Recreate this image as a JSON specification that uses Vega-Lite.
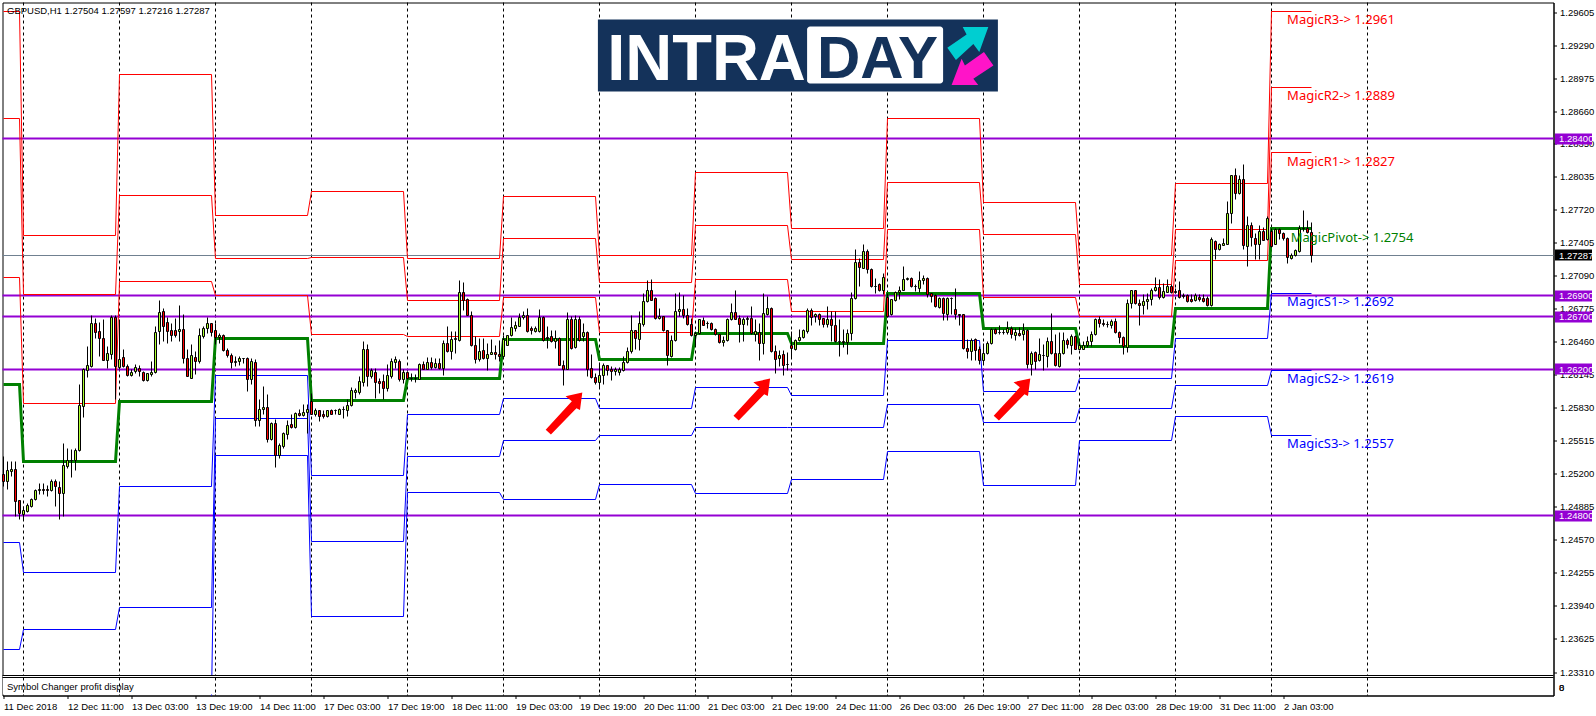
{"$schema":"https://vega.github.io/schema/vega-lite/v6.json","width":1551,"height":693,"autosize":{"type":"none"},"padding":{"left":2.5,"top":2.5,"right":42.5,"bottom":20.5},"background":"white","config":{"view":{"stroke":"black","strokeWidth":1},"text":{"font":"Liberation Sans"},"axis":{"grid":false,"title":null,"labelOverlap":false,"labelBound":false,"labelFlush":false}},
"datasets":{
"candles":[
{"i":0,"o":1.25191,"h":1.25366,"l":1.25079,"c":1.25127},{"i":1,"o":1.25127,"h":1.25318,"l":1.25048,"c":1.25229},{"i":2,"o":1.25219,"h":1.25318,"l":1.25175,"c":1.25245},{"i":3,"o":1.25245,"h":1.25318,"l":1.24793,"c":1.24936},{"i":4,"o":1.24942,"h":1.24945,"l":1.24761,"c":1.24819},{"i":5,"o":1.24809,"h":1.24889,"l":1.24761,"c":1.24847},{"i":6,"o":1.24841,"h":1.24914,"l":1.24835,"c":1.24895},{"i":7,"o":1.24889,"h":1.24968,"l":1.24882,"c":1.24959},{"i":8,"o":1.24959,"h":1.25048,"l":1.24946,"c":1.25038},{"i":9,"o":1.25038,"h":1.25105,"l":1.25000,"c":1.25048},
{"i":10,"o":1.25048,"h":1.25105,"l":1.25000,"c":1.25045},{"i":11,"o":1.25048,"h":1.25086,"l":1.24984,"c":1.25045},{"i":12,"o":1.25041,"h":1.25143,"l":1.25032,"c":1.25127},{"i":13,"o":1.25127,"h":1.25143,"l":1.24889,"c":1.25079},{"i":14,"o":1.25073,"h":1.25127,"l":1.24761,"c":1.25016},{"i":15,"o":1.25016,"h":1.25493,"l":1.24793,"c":1.25277},{"i":16,"o":1.25270,"h":1.25445,"l":1.25254,"c":1.25327},{"i":17,"o":1.25327,"h":1.25436,"l":1.25168,"c":1.25324},{"i":18,"o":1.25327,"h":1.25445,"l":1.25232,"c":1.25426},{"i":19,"o":1.25423,"h":1.26049,"l":1.25413,"c":1.25849},
{"i":20,"o":1.25843,"h":1.26208,"l":1.25738,"c":1.26192},{"i":21,"o":1.26186,"h":1.26415,"l":1.26122,"c":1.26230},{"i":22,"o":1.26224,"h":1.26708,"l":1.26218,"c":1.26631},{"i":23,"o":1.26631,"h":1.26685,"l":1.26495,"c":1.26549},{"i":24,"o":1.26561,"h":1.26644,"l":1.26319,"c":1.26492},{"i":25,"o":1.26495,"h":1.26669,"l":1.26281,"c":1.26281},{"i":26,"o":1.26281,"h":1.26415,"l":1.26208,"c":1.26345},{"i":27,"o":1.26339,"h":1.26708,"l":1.26288,"c":1.26688},{"i":28,"o":1.26688,"h":1.26708,"l":1.25906,"c":1.26224},{"i":29,"o":1.26211,"h":1.26669,"l":1.26192,"c":1.26288},
{"i":30,"o":1.26313,"h":1.26383,"l":1.26218,"c":1.26224},{"i":31,"o":1.26224,"h":1.26240,"l":1.26129,"c":1.26138},{"i":32,"o":1.26138,"h":1.26192,"l":1.26129,"c":1.26170},{"i":33,"o":1.26176,"h":1.26240,"l":1.26161,"c":1.26218},{"i":34,"o":1.26208,"h":1.26230,"l":1.26129,"c":1.26176},{"i":35,"o":1.26167,"h":1.26176,"l":1.26081,"c":1.26091},{"i":36,"o":1.26091,"h":1.26161,"l":1.26081,"c":1.26154},{"i":37,"o":1.26148,"h":1.26272,"l":1.26129,"c":1.26170},{"i":38,"o":1.26170,"h":1.26606,"l":1.26161,"c":1.26552},{"i":39,"o":1.26558,"h":1.26851,"l":1.26431,"c":1.26742},
{"i":40,"o":1.26752,"h":1.26781,"l":1.26463,"c":1.26606},{"i":41,"o":1.26644,"h":1.26695,"l":1.26447,"c":1.26558},{"i":42,"o":1.26564,"h":1.26638,"l":1.26463,"c":1.26517},{"i":43,"o":1.26564,"h":1.26685,"l":1.26504,"c":1.26517},{"i":44,"o":1.26558,"h":1.26812,"l":1.26463,"c":1.26580},{"i":45,"o":1.26580,"h":1.26717,"l":1.26256,"c":1.26304},{"i":46,"o":1.26304,"h":1.26383,"l":1.26129,"c":1.26129},{"i":47,"o":1.26113,"h":1.26431,"l":1.26110,"c":1.26326},{"i":48,"o":1.26313,"h":1.26367,"l":1.26145,"c":1.26272},{"i":49,"o":1.26272,"h":1.26590,"l":1.26256,"c":1.26517},
{"i":50,"o":1.26510,"h":1.26606,"l":1.26495,"c":1.26590},{"i":51,"o":1.26587,"h":1.26695,"l":1.26542,"c":1.26631},{"i":52,"o":1.26631,"h":1.26631,"l":1.26510,"c":1.26549},{"i":53,"o":1.26564,"h":1.26638,"l":1.26431,"c":1.26504},{"i":54,"o":1.26504,"h":1.26542,"l":1.26447,"c":1.26520},{"i":55,"o":1.26520,"h":1.26526,"l":1.26367,"c":1.26374},{"i":56,"o":1.26374,"h":1.26399,"l":1.26313,"c":1.26329},{"i":57,"o":1.26329,"h":1.26345,"l":1.26208,"c":1.26262},{"i":58,"o":1.26265,"h":1.26319,"l":1.26224,"c":1.26275},{"i":59,"o":1.26272,"h":1.26319,"l":1.26230,"c":1.26304},
{"i":60,"o":1.26304,"h":1.26304,"l":1.26256,"c":1.26301},{"i":61,"o":1.26304,"h":1.26313,"l":1.25986,"c":1.26103},{"i":62,"o":1.26103,"h":1.26304,"l":1.26049,"c":1.26272},{"i":63,"o":1.26265,"h":1.26288,"l":1.25652,"c":1.25709},{"i":64,"o":1.25709,"h":1.25906,"l":1.25652,"c":1.25817},{"i":65,"o":1.25817,"h":1.26033,"l":1.25763,"c":1.25836},{"i":66,"o":1.25836,"h":1.25954,"l":1.25499,"c":1.25525},{"i":67,"o":1.25525,"h":1.25690,"l":1.25518,"c":1.25677},{"i":68,"o":1.25677,"h":1.25715,"l":1.25261,"c":1.25375},{"i":69,"o":1.25375,"h":1.25493,"l":1.25350,"c":1.25467},
{"i":70,"o":1.25461,"h":1.25595,"l":1.25445,"c":1.25582},{"i":71,"o":1.25575,"h":1.25709,"l":1.25531,"c":1.25664},{"i":72,"o":1.25668,"h":1.25763,"l":1.25636,"c":1.25642},{"i":73,"o":1.25642,"h":1.25785,"l":1.25636,"c":1.25779},{"i":74,"o":1.25779,"h":1.25811,"l":1.25747,"c":1.25754},{"i":75,"o":1.25760,"h":1.25859,"l":1.25747,"c":1.25789},{"i":76,"o":1.25785,"h":1.25859,"l":1.25588,"c":1.25817},{"i":77,"o":1.25890,"h":1.25970,"l":1.25763,"c":1.25769},{"i":78,"o":1.25766,"h":1.25827,"l":1.25747,"c":1.25808},{"i":79,"o":1.25808,"h":1.25808,"l":1.25700,"c":1.25747},
{"i":80,"o":1.25763,"h":1.25804,"l":1.25731,"c":1.25750},{"i":81,"o":1.25747,"h":1.25804,"l":1.25741,"c":1.25801},{"i":82,"o":1.25801,"h":1.25817,"l":1.25763,"c":1.25766},{"i":83,"o":1.25808,"h":1.25817,"l":1.25763,"c":1.25805},{"i":84,"o":1.25766,"h":1.25827,"l":1.25763,"c":1.25817},{"i":85,"o":1.25811,"h":1.25843,"l":1.25731,"c":1.25817},{"i":86,"o":1.25804,"h":1.25906,"l":1.25747,"c":1.25855},{"i":87,"o":1.25849,"h":1.26027,"l":1.25843,"c":1.25998},{"i":88,"o":1.25976,"h":1.26017,"l":1.25922,"c":1.25998},{"i":89,"o":1.25976,"h":1.26129,"l":1.25954,"c":1.26078},
{"i":90,"o":1.26072,"h":1.26463,"l":1.26033,"c":1.26383},{"i":91,"o":1.26383,"h":1.26431,"l":1.26033,"c":1.26129},{"i":92,"o":1.26129,"h":1.26208,"l":1.26113,"c":1.26186},{"i":93,"o":1.26170,"h":1.26208,"l":1.25916,"c":1.26072},{"i":94,"o":1.26078,"h":1.26113,"l":1.25970,"c":1.26065},{"i":95,"o":1.26078,"h":1.26145,"l":1.25906,"c":1.26011},{"i":96,"o":1.26011,"h":1.26240,"l":1.25986,"c":1.26135},{"i":97,"o":1.26129,"h":1.26304,"l":1.26113,"c":1.26269},{"i":98,"o":1.26262,"h":1.26319,"l":1.26208,"c":1.26288},{"i":99,"o":1.26275,"h":1.26288,"l":1.26081,"c":1.26103},
{"i":100,"o":1.26103,"h":1.26192,"l":1.26065,"c":1.26170},{"i":101,"o":1.26170,"h":1.26176,"l":1.26097,"c":1.26106},{"i":102,"o":1.26110,"h":1.26161,"l":1.26081,"c":1.26113},{"i":103,"o":1.26113,"h":1.26145,"l":1.26075,"c":1.26110},{"i":104,"o":1.26103,"h":1.26256,"l":1.26097,"c":1.26246},{"i":105,"o":1.26246,"h":1.26271,"l":1.26192,"c":1.26201},{"i":106,"o":1.26201,"h":1.26312,"l":1.26192,"c":1.26265},{"i":107,"o":1.26265,"h":1.26312,"l":1.26201,"c":1.26214},{"i":108,"o":1.26214,"h":1.26303,"l":1.26208,"c":1.26255},{"i":109,"o":1.26255,"h":1.26297,"l":1.26198,"c":1.26208},
{"i":110,"o":1.26208,"h":1.26478,"l":1.26144,"c":1.26446},{"i":111,"o":1.26446,"h":1.26611,"l":1.26357,"c":1.26366},{"i":112,"o":1.26366,"h":1.26557,"l":1.26293,"c":1.26487},{"i":113,"o":1.26484,"h":1.26557,"l":1.26351,"c":1.26494},{"i":114,"o":1.26478,"h":1.27050,"l":1.26468,"c":1.26932},{"i":115,"o":1.26932,"h":1.27025,"l":1.26764,"c":1.26859},{"i":116,"o":1.26866,"h":1.26875,"l":1.26716,"c":1.26716},{"i":117,"o":1.26710,"h":1.26748,"l":1.26414,"c":1.26424},{"i":118,"o":1.26424,"h":1.26516,"l":1.26255,"c":1.26293},{"i":119,"o":1.26293,"h":1.26494,"l":1.26271,"c":1.26373},
{"i":120,"o":1.26376,"h":1.26494,"l":1.26293,"c":1.26297},{"i":121,"o":1.26297,"h":1.26446,"l":1.26185,"c":1.26341},{"i":122,"o":1.26341,"h":1.26484,"l":1.26335,"c":1.26357},{"i":123,"o":1.26360,"h":1.26430,"l":1.26293,"c":1.26335},{"i":124,"o":1.26341,"h":1.26478,"l":1.26271,"c":1.26319},{"i":125,"o":1.26319,"h":1.26525,"l":1.26312,"c":1.26484},{"i":126,"o":1.26424,"h":1.26525,"l":1.26421,"c":1.26519},{"i":127,"o":1.26519,"h":1.26694,"l":1.26510,"c":1.26595},{"i":128,"o":1.26592,"h":1.26653,"l":1.26557,"c":1.26621},{"i":129,"o":1.26611,"h":1.26732,"l":1.26605,"c":1.26694},
{"i":130,"o":1.26688,"h":1.26748,"l":1.26675,"c":1.26710},{"i":131,"o":1.26716,"h":1.26780,"l":1.26548,"c":1.26557},{"i":132,"o":1.26589,"h":1.26611,"l":1.26535,"c":1.26564},{"i":133,"o":1.26557,"h":1.26611,"l":1.26548,"c":1.26592},{"i":134,"o":1.26557,"h":1.26770,"l":1.26548,"c":1.26694},{"i":135,"o":1.26694,"h":1.26700,"l":1.26462,"c":1.26478},{"i":136,"o":1.26503,"h":1.26605,"l":1.26398,"c":1.26494},{"i":137,"o":1.26510,"h":1.26567,"l":1.26452,"c":1.26462},{"i":138,"o":1.26462,"h":1.26567,"l":1.26398,"c":1.26491},{"i":139,"o":1.26497,"h":1.26503,"l":1.26230,"c":1.26233},
{"i":140,"o":1.26233,"h":1.26287,"l":1.26042,"c":1.26198},{"i":141,"o":1.26198,"h":1.26738,"l":1.26192,"c":1.26675},{"i":142,"o":1.26669,"h":1.26707,"l":1.26389,"c":1.26398},{"i":143,"o":1.26405,"h":1.26716,"l":1.26398,"c":1.26669},{"i":144,"o":1.26669,"h":1.26700,"l":1.26462,"c":1.26471},{"i":145,"o":1.26516,"h":1.26637,"l":1.26468,"c":1.26551},{"i":146,"o":1.26551,"h":1.26557,"l":1.26128,"c":1.26201},{"i":147,"o":1.26208,"h":1.26344,"l":1.26112,"c":1.26118},{"i":148,"o":1.26121,"h":1.26160,"l":1.26058,"c":1.26071},{"i":149,"o":1.26071,"h":1.26249,"l":1.26017,"c":1.26144},
{"i":150,"o":1.26137,"h":1.26255,"l":1.26049,"c":1.26230},{"i":151,"o":1.26233,"h":1.26239,"l":1.26144,"c":1.26185},{"i":152,"o":1.26201,"h":1.26223,"l":1.26096,"c":1.26176},{"i":153,"o":1.26176,"h":1.26217,"l":1.26144,"c":1.26192},{"i":154,"o":1.26166,"h":1.26214,"l":1.26137,"c":1.26192},{"i":155,"o":1.26185,"h":1.26319,"l":1.26176,"c":1.26268},{"i":156,"o":1.26265,"h":1.26408,"l":1.26255,"c":1.26373},{"i":157,"o":1.26366,"h":1.26716,"l":1.26351,"c":1.26564},{"i":158,"o":1.26564,"h":1.26567,"l":1.26389,"c":1.26494},{"i":159,"o":1.26487,"h":1.26748,"l":1.26382,"c":1.26637},
{"i":160,"o":1.26630,"h":1.26923,"l":1.26605,"c":1.26850},{"i":161,"o":1.26843,"h":1.27044,"l":1.26834,"c":1.26952},{"i":162,"o":1.26955,"h":1.27057,"l":1.26853,"c":1.26859},{"i":163,"o":1.26875,"h":1.26882,"l":1.26675,"c":1.26681},{"i":164,"o":1.26681,"h":1.26780,"l":1.26675,"c":1.26700},{"i":165,"o":1.26700,"h":1.26707,"l":1.26561,"c":1.26567},{"i":166,"o":1.26564,"h":1.26573,"l":1.26230,"c":1.26328},{"i":167,"o":1.26325,"h":1.26525,"l":1.26312,"c":1.26478},{"i":168,"o":1.26471,"h":1.26923,"l":1.26462,"c":1.26748},{"i":169,"o":1.26748,"h":1.26929,"l":1.26700,"c":1.26770},
{"i":170,"o":1.26773,"h":1.26898,"l":1.26684,"c":1.26710},{"i":171,"o":1.26716,"h":1.26780,"l":1.26621,"c":1.26627},{"i":172,"o":1.26627,"h":1.26684,"l":1.26516,"c":1.26519},{"i":173,"o":1.26519,"h":1.26557,"l":1.26421,"c":1.26541},{"i":174,"o":1.26538,"h":1.26675,"l":1.26535,"c":1.26669},{"i":175,"o":1.26665,"h":1.26694,"l":1.26614,"c":1.26621},{"i":176,"o":1.26637,"h":1.26659,"l":1.26583,"c":1.26634},{"i":177,"o":1.26637,"h":1.26646,"l":1.26573,"c":1.26580},{"i":178,"o":1.26580,"h":1.26589,"l":1.26525,"c":1.26535},{"i":179,"o":1.26529,"h":1.26535,"l":1.26440,"c":1.26452},
{"i":180,"o":1.26452,"h":1.26510,"l":1.26414,"c":1.26478},{"i":181,"o":1.26471,"h":1.26684,"l":1.26468,"c":1.26675},{"i":182,"o":1.26669,"h":1.26827,"l":1.26662,"c":1.26741},{"i":183,"o":1.26741,"h":1.26955,"l":1.26669,"c":1.26678},{"i":184,"o":1.26684,"h":1.26716,"l":1.26452,"c":1.26630},{"i":185,"o":1.26630,"h":1.26694,"l":1.26462,"c":1.26675},{"i":186,"o":1.26675,"h":1.26700,"l":1.26621,"c":1.26684},{"i":187,"o":1.26684,"h":1.26796,"l":1.26535,"c":1.26541},{"i":188,"o":1.26535,"h":1.26669,"l":1.26462,"c":1.26557},{"i":189,"o":1.26548,"h":1.26637,"l":1.26281,"c":1.26446},
{"i":190,"o":1.26446,"h":1.26923,"l":1.26335,"c":1.26732},{"i":191,"o":1.26726,"h":1.26891,"l":1.26716,"c":1.26780},{"i":192,"o":1.26780,"h":1.26786,"l":1.26360,"c":1.26366},{"i":193,"o":1.26373,"h":1.26421,"l":1.26160,"c":1.26293},{"i":194,"o":1.26297,"h":1.26376,"l":1.26223,"c":1.26328},{"i":195,"o":1.26335,"h":1.26382,"l":1.26144,"c":1.26230},{"i":196,"o":1.26246,"h":1.26354,"l":1.26185,"c":1.26243},{"i":197,"o":1.26421,"h":1.26558,"l":1.26303,"c":1.26396},{"i":198,"o":1.26383,"h":1.26485,"l":1.26376,"c":1.26478},{"i":199,"o":1.26469,"h":1.26574,"l":1.26462,"c":1.26500},
{"i":200,"o":1.26500,"h":1.26574,"l":1.26494,"c":1.26564},{"i":201,"o":1.26558,"h":1.26780,"l":1.26542,"c":1.26755},{"i":202,"o":1.26755,"h":1.26780,"l":1.26621,"c":1.26694},{"i":203,"o":1.26701,"h":1.26733,"l":1.26644,"c":1.26723},{"i":204,"o":1.26723,"h":1.26733,"l":1.26612,"c":1.26669},{"i":205,"o":1.26679,"h":1.26685,"l":1.26599,"c":1.26628},{"i":206,"o":1.26628,"h":1.26802,"l":1.26599,"c":1.26669},{"i":207,"o":1.26669,"h":1.26749,"l":1.26462,"c":1.26615},{"i":208,"o":1.26621,"h":1.26749,"l":1.26456,"c":1.26462},{"i":209,"o":1.26462,"h":1.26669,"l":1.26319,"c":1.26459},
{"i":210,"o":1.26459,"h":1.26580,"l":1.26408,"c":1.26456},{"i":211,"o":1.26453,"h":1.26580,"l":1.26335,"c":1.26542},{"i":212,"o":1.26542,"h":1.26930,"l":1.26469,"c":1.26876},{"i":213,"o":1.26873,"h":1.27343,"l":1.26866,"c":1.27222},{"i":214,"o":1.27222,"h":1.27257,"l":1.26987,"c":1.27168},{"i":215,"o":1.27162,"h":1.27385,"l":1.27156,"c":1.27327},{"i":216,"o":1.27327,"h":1.27337,"l":1.27114,"c":1.27146},{"i":217,"o":1.27152,"h":1.27159,"l":1.26978,"c":1.26987},{"i":218,"o":1.26987,"h":1.27066,"l":1.26917,"c":1.26984},{"i":219,"o":1.27009,"h":1.27019,"l":1.26939,"c":1.26946},
{"i":220,"o":1.26955,"h":1.27114,"l":1.26908,"c":1.27076},{"i":221,"o":1.26885,"h":1.26923,"l":1.26694,"c":1.26707},{"i":222,"o":1.26717,"h":1.26866,"l":1.26710,"c":1.26860},{"i":223,"o":1.26853,"h":1.26939,"l":1.26850,"c":1.26933},{"i":224,"o":1.26930,"h":1.26987,"l":1.26860,"c":1.26955},{"i":225,"o":1.26949,"h":1.27178,"l":1.26946,"c":1.27057},{"i":226,"o":1.27057,"h":1.27076,"l":1.27044,"c":1.27066},{"i":227,"o":1.27066,"h":1.27076,"l":1.26977,"c":1.26987},{"i":228,"o":1.26987,"h":1.27012,"l":1.26939,"c":1.26984},{"i":229,"o":1.26974,"h":1.27130,"l":1.26930,"c":1.27047},
{"i":230,"o":1.27044,"h":1.27089,"l":1.27012,"c":1.27066},{"i":231,"o":1.27066,"h":1.27073,"l":1.26885,"c":1.26908},{"i":232,"o":1.26917,"h":1.26923,"l":1.26834,"c":1.26892},{"i":233,"o":1.26898,"h":1.26908,"l":1.26790,"c":1.26796},{"i":234,"o":1.26790,"h":1.26885,"l":1.26780,"c":1.26876},{"i":235,"o":1.26876,"h":1.26885,"l":1.26663,"c":1.26733},{"i":236,"o":1.26726,"h":1.26882,"l":1.26663,"c":1.26876},{"i":237,"o":1.26876,"h":1.26882,"l":1.26726,"c":1.26873},{"i":238,"o":1.26765,"h":1.26971,"l":1.26669,"c":1.26717},{"i":239,"o":1.26717,"h":1.26726,"l":1.26612,"c":1.26714},
{"i":240,"o":1.26717,"h":1.26726,"l":1.26392,"c":1.26399},{"i":241,"o":1.26399,"h":1.26484,"l":1.26303,"c":1.26367},{"i":242,"o":1.26367,"h":1.26494,"l":1.26287,"c":1.26478},{"i":243,"o":1.26484,"h":1.26494,"l":1.26287,"c":1.26376},{"i":244,"o":1.26383,"h":1.26415,"l":1.26249,"c":1.26287},{"i":245,"o":1.26287,"h":1.26446,"l":1.26240,"c":1.26345},{"i":246,"o":1.26345,"h":1.26459,"l":1.26342,"c":1.26446},{"i":247,"o":1.26440,"h":1.26590,"l":1.26431,"c":1.26574},{"i":248,"o":1.26574,"h":1.26590,"l":1.26526,"c":1.26542},{"i":249,"o":1.26548,"h":1.26612,"l":1.26526,"c":1.26545},
{"i":250,"o":1.26548,"h":1.26580,"l":1.26526,"c":1.26545},{"i":251,"o":1.26548,"h":1.26653,"l":1.26526,"c":1.26590},{"i":252,"o":1.26590,"h":1.26606,"l":1.26494,"c":1.26526},{"i":253,"o":1.26520,"h":1.26590,"l":1.26472,"c":1.26545},{"i":254,"o":1.26542,"h":1.26599,"l":1.26510,"c":1.26520},{"i":255,"o":1.26526,"h":1.26631,"l":1.26472,"c":1.26564},{"i":256,"o":1.26564,"h":1.26574,"l":1.26208,"c":1.26249},{"i":257,"o":1.26249,"h":1.26367,"l":1.26135,"c":1.26351},{"i":258,"o":1.26357,"h":1.26367,"l":1.26192,"c":1.26271},{"i":259,"o":1.26278,"h":1.26494,"l":1.26271,"c":1.26335},
{"i":260,"o":1.26332,"h":1.26431,"l":1.26186,"c":1.26329},{"i":261,"o":1.26319,"h":1.26503,"l":1.26217,"c":1.26465},{"i":262,"o":1.26465,"h":1.26733,"l":1.26335,"c":1.26345},{"i":263,"o":1.26351,"h":1.26526,"l":1.26224,"c":1.26230},{"i":264,"o":1.26224,"h":1.26548,"l":1.26217,"c":1.26351},{"i":265,"o":1.26345,"h":1.26548,"l":1.26342,"c":1.26478},{"i":266,"o":1.26478,"h":1.26494,"l":1.26399,"c":1.26431},{"i":267,"o":1.26427,"h":1.26526,"l":1.26342,"c":1.26516},{"i":268,"o":1.26516,"h":1.26523,"l":1.26383,"c":1.26389},{"i":269,"o":1.26389,"h":1.26462,"l":1.26383,"c":1.26421},
{"i":270,"o":1.26392,"h":1.26462,"l":1.26383,"c":1.26427},{"i":271,"o":1.26421,"h":1.26516,"l":1.26408,"c":1.26462},{"i":272,"o":1.26459,"h":1.26558,"l":1.26415,"c":1.26532},{"i":273,"o":1.26526,"h":1.26685,"l":1.26520,"c":1.26675},{"i":274,"o":1.26675,"h":1.26701,"l":1.26599,"c":1.26631},{"i":275,"o":1.26631,"h":1.26669,"l":1.26606,"c":1.26628},{"i":276,"o":1.26628,"h":1.26653,"l":1.26599,"c":1.26625},{"i":277,"o":1.26612,"h":1.26675,"l":1.26590,"c":1.26650},{"i":278,"o":1.26650,"h":1.26682,"l":1.26542,"c":1.26551},{"i":279,"o":1.26551,"h":1.26558,"l":1.26446,"c":1.26503},
{"i":280,"o":1.26503,"h":1.26510,"l":1.26335,"c":1.26415},{"i":281,"o":1.26408,"h":1.26866,"l":1.26357,"c":1.26828},{"i":282,"o":1.26828,"h":1.26955,"l":1.26780,"c":1.26946},{"i":283,"o":1.26946,"h":1.26955,"l":1.26815,"c":1.26822},{"i":284,"o":1.26828,"h":1.26866,"l":1.26621,"c":1.26803},{"i":285,"o":1.26803,"h":1.26908,"l":1.26726,"c":1.26850},{"i":286,"o":1.26844,"h":1.26917,"l":1.26765,"c":1.26866},{"i":287,"o":1.26860,"h":1.26971,"l":1.26812,"c":1.26955},{"i":288,"o":1.26949,"h":1.27076,"l":1.26939,"c":1.26981},{"i":289,"o":1.26981,"h":1.27051,"l":1.26866,"c":1.26882},
{"i":290,"o":1.26882,"h":1.27019,"l":1.26876,"c":1.26942},{"i":291,"o":1.26936,"h":1.27051,"l":1.26930,"c":1.26993},{"i":292,"o":1.26993,"h":1.27003,"l":1.26917,"c":1.26930},{"i":293,"o":1.26939,"h":1.26971,"l":1.26917,"c":1.26936},{"i":294,"o":1.26946,"h":1.27035,"l":1.26876,"c":1.26888},{"i":295,"o":1.26898,"h":1.26917,"l":1.26876,"c":1.26895},{"i":296,"o":1.26898,"h":1.26908,"l":1.26834,"c":1.26841},{"i":297,"o":1.26860,"h":1.26908,"l":1.26838,"c":1.26844},{"i":298,"o":1.26853,"h":1.26917,"l":1.26844,"c":1.26898},{"i":299,"o":1.26885,"h":1.26908,"l":1.26847,"c":1.26860},
{"i":300,"o":1.26876,"h":1.26908,"l":1.26838,"c":1.26850},{"i":301,"o":1.26876,"h":1.26892,"l":1.26796,"c":1.26803},{"i":302,"o":1.26803,"h":1.27458,"l":1.26796,"c":1.27439},{"i":303,"o":1.27419,"h":1.27426,"l":1.27248,"c":1.27337},{"i":304,"o":1.27343,"h":1.27400,"l":1.27330,"c":1.27385},{"i":305,"o":1.27381,"h":1.27448,"l":1.27375,"c":1.27400},{"i":306,"o":1.27394,"h":1.27798,"l":1.27385,"c":1.27687},{"i":307,"o":1.27687,"h":1.28043,"l":1.27591,"c":1.28043},{"i":308,"o":1.28043,"h":1.28116,"l":1.27820,"c":1.27878},{"i":309,"o":1.27878,"h":1.28052,"l":1.27871,"c":1.28011},
{"i":310,"o":1.28011,"h":1.28157,"l":1.27337,"c":1.27375},{"i":311,"o":1.27369,"h":1.27655,"l":1.27184,"c":1.27575},{"i":312,"o":1.27575,"h":1.27598,"l":1.27369,"c":1.27458},{"i":313,"o":1.27448,"h":1.27496,"l":1.27242,"c":1.27385},{"i":314,"o":1.27385,"h":1.27575,"l":1.27242,"c":1.27512},{"i":315,"o":1.27512,"h":1.27553,"l":1.27432,"c":1.27432},{"i":316,"o":1.27439,"h":1.27655,"l":1.27432,"c":1.27639},{"i":317,"o":1.27512,"h":1.27544,"l":1.27362,"c":1.27369},{"i":318,"o":1.27394,"h":1.27544,"l":1.27385,"c":1.27528},{"i":319,"o":1.27528,"h":1.27544,"l":1.27439,"c":1.27490},
{"i":320,"o":1.27490,"h":1.27502,"l":1.27432,"c":1.27448},{"i":321,"o":1.27448,"h":1.27458,"l":1.27210,"c":1.27264},{"i":322,"o":1.27258,"h":1.27299,"l":1.27242,"c":1.27289},{"i":323,"o":1.27280,"h":1.27343,"l":1.27274,"c":1.27331},{"i":324,"o":1.27321,"h":1.27566,"l":1.27312,"c":1.27544},{"i":325,"o":1.27544,"h":1.27718,"l":1.27512,"c":1.27541},{"i":326,"o":1.27544,"h":1.27617,"l":1.27496,"c":1.27502},{"i":327,"o":1.27504,"h":1.27597,"l":1.27216,"c":1.27287}],
"levels":[
{"i":0,"R3":1.29617,"R2":1.28596,"R1":1.27076,"P":1.26055,"S1":1.24546,"S2":1.23520,"S3":1.22012},{"i":4,"R3":1.29617,"R2":1.28596,"R1":1.27076,"P":1.26055,"S1":1.24546,"S2":1.23520,"S3":1.22012},
{"i":5,"R3":1.27477,"R2":1.26914,"R1":1.25874,"P":1.25321,"S1":1.24264,"S2":1.23720,"S3":1.22690},{"i":28,"R3":1.27477,"R2":1.26914,"R1":1.25874,"P":1.25321,"S1":1.24264,"S2":1.23720,"S3":1.22690},
{"i":29,"R3":1.29007,"R2":1.27859,"R1":1.27038,"P":1.25893,"S1":1.25078,"S2":1.23921,"S3":1.23072},{"i":52,"R3":1.29007,"R2":1.27859,"R1":1.27038,"P":1.25893,"S1":1.25078,"S2":1.23921,"S3":1.23072},
{"i":53,"R3":1.27668,"R2":1.27258,"R1":1.26905,"P":1.26494,"S1":1.26141,"S2":1.25731,"S3":1.25378},{"i":76,"R3":1.27668,"R2":1.27258,"R1":1.26905,"P":1.26494,"S1":1.26141,"S2":1.25731,"S3":1.25378},
{"i":77,"R3":1.27897,"R2":1.27261,"R1":1.26533,"P":1.25903,"S1":1.25187,"S2":1.24551,"S3":1.23840},{"i":100,"R3":1.27897,"R2":1.27261,"R1":1.26533,"P":1.25903,"S1":1.25187,"S2":1.24551,"S3":1.23840},
{"i":101,"R3":1.27258,"R2":1.26857,"R1":1.26513,"P":1.26113,"S1":1.25769,"S2":1.25368,"S3":1.25025},{"i":124,"R3":1.27258,"R2":1.26857,"R1":1.26513,"P":1.26113,"S1":1.25769,"S2":1.25368,"S3":1.25025},
{"i":125,"R3":1.27852,"R2":1.27449,"R1":1.26886,"P":1.26485,"S1":1.25922,"S2":1.25521,"S3":1.24958},{"i":148,"R3":1.27852,"R2":1.27449,"R1":1.26886,"P":1.26485,"S1":1.25922,"S2":1.25521,"S3":1.24958},
{"i":149,"R3":1.27283,"R2":1.27029,"R1":1.26552,"P":1.26294,"S1":1.25826,"S2":1.25569,"S3":1.25101},{"i":172,"R3":1.27283,"R2":1.27029,"R1":1.26552,"P":1.26294,"S1":1.25826,"S2":1.25569,"S3":1.25101},
{"i":173,"R3":1.28072,"R2":1.27566,"R1":1.27051,"P":1.26542,"S1":1.26027,"S2":1.25645,"S3":1.25009},{"i":196,"R3":1.28072,"R2":1.27566,"R1":1.27051,"P":1.26542,"S1":1.26027,"S2":1.25645,"S3":1.25009},
{"i":197,"R3":1.27544,"R2":1.27248,"R1":1.26752,"P":1.26447,"S1":1.25950,"S2":1.25645,"S3":1.25149},{"i":220,"R3":1.27544,"R2":1.27248,"R1":1.26752,"P":1.26447,"S1":1.25950,"S2":1.25645,"S3":1.25149},
{"i":221,"R3":1.28594,"R2":1.27983,"R1":1.27534,"P":1.26924,"S1":1.26475,"S2":1.25865,"S3":1.25416},{"i":244,"R3":1.28594,"R2":1.27983,"R1":1.27534,"P":1.26924,"S1":1.26475,"S2":1.25865,"S3":1.25416},
{"i":245,"R3":1.27792,"R2":1.27487,"R1":1.26886,"P":1.26590,"S1":1.25989,"S2":1.25693,"S3":1.25092},{"i":268,"R3":1.27792,"R2":1.27487,"R1":1.26886,"P":1.26590,"S1":1.25989,"S2":1.25693,"S3":1.25092},
{"i":269,"R3":1.27286,"R2":1.27010,"R1":1.26700,"P":1.26416,"S1":1.26113,"S2":1.25826,"S3":1.25521},{"i":292,"R3":1.27286,"R2":1.27010,"R1":1.26700,"P":1.26416,"S1":1.26113,"S2":1.25826,"S3":1.25521},
{"i":293,"R3":1.27973,"R2":1.27528,"R1":1.27241,"P":1.26781,"S1":1.26494,"S2":1.26046,"S3":1.25750},{"i":316,"R3":1.27973,"R2":1.27528,"R1":1.27241,"P":1.26781,"S1":1.26494,"S2":1.26046,"S3":1.25750},
{"i":317,"R3":1.2961,"R2":1.2889,"R1":1.2827,"P":1.2754,"S1":1.2692,"S2":1.2619,"S3":1.2557},{"i":327,"R3":1.2961,"R2":1.2889,"R1":1.2827,"P":1.2754,"S1":1.2692,"S2":1.2619,"S3":1.2557}],
"seps":[{"i":5},{"i":29},{"i":53},{"i":77},{"i":101},{"i":125},{"i":149},{"i":173},{"i":197},{"i":221},{"i":245},{"i":269},{"i":293},{"i":317},{"i":341}],
"magic":[{"i":320.9,"p":1.29538,"k":"R3","t":"MagicR3-> 1.2961"},{"i":320.9,"p":1.28809,"k":"R2","t":"MagicR2-> 1.2889"},{"i":320.9,"p":1.28179,"k":"R1","t":"MagicR1-> 1.2827"},{"i":321.8,"p":1.27458,"k":"P","t":"MagicPivot-> 1.2754"},{"i":320.9,"p":1.26841,"k":"S1","t":"MagicS1-> 1.2692"},{"i":320.9,"p":1.2611,"k":"S2","t":"MagicS2-> 1.2619"},{"i":320.9,"p":1.25488,"k":"S3","t":"MagicS3-> 1.2557"}],
"boxes":[{"x1":387.875,"x2":397.125,"t":"1.28400","p":1.284,"a":1.28453,"b":1.28347},{"x1":387.875,"x2":397.125,"t":"1.26900","p":1.269,"a":1.26953,"b":1.26847},{"x1":387.875,"x2":397.125,"t":"1.26700","p":1.267,"a":1.26753,"b":1.26647},{"x1":387.875,"x2":397.125,"t":"1.26200","p":1.262,"a":1.26253,"b":1.26147},{"x1":387.875,"x2":397.125,"t":"1.24800","p":1.248,"a":1.24853,"b":1.24747}]
},
"layer":[
{"data":{"name":"seps"},"mark":{"type":"rule","color":"black","strokeWidth":1,"strokeDash":[3,3]},"encoding":{"x":{"field":"i","type":"quantitative","scale":{"domain":[-0.25,387.5],"nice":false,"zero":false,"padding":0},"axis":{"orient":"bottom","values":[0,16,32,48,64,80,96,112,128,144,160,176,192,208,224,240,256,272,288,304,320],"labelExpr":"['11 Dec 2018','12 Dec 11:00','13 Dec 03:00','13 Dec 19:00','14 Dec 11:00','17 Dec 03:00','17 Dec 19:00','18 Dec 11:00','19 Dec 03:00','19 Dec 19:00','20 Dec 11:00','21 Dec 03:00','21 Dec 19:00','24 Dec 11:00','26 Dec 03:00','26 Dec 19:00','27 Dec 11:00','28 Dec 03:00','28 Dec 19:00','31 Dec 11:00','2 Jan 03:00'][datum.value/16]","labelAlign":"left","labelBaseline":"top","labelFlush":false,"labelOverlap":false,"labelBound":false,"tickCount":60,"tickSize":3,"labelPadding":3,"grid":false,"title":null,"domainColor":"black","tickColor":"black","labelColor":"black","labelFont":"Liberation Sans","labelFontSize":9.5}}}},
{"data":{"values":[{"p":1.284},{"p":1.269},{"p":1.267},{"p":1.262},{"p":1.248}]},"mark":{"type":"rule","color":"#9400D3","strokeWidth":2},"encoding":{"y":{"field":"p","type":"quantitative","scale":{"domain":[1.230858,1.296985],"nice":false,"zero":false,"round":true,"padding":0},"axis":{"orient":"right","values":[1.29605,1.2929,1.28975,1.2866,1.2835,1.28035,1.2772,1.27405,1.2709,1.26775,1.2646,1.26145,1.2583,1.25515,1.252,1.24885,1.2457,1.24255,1.2394,1.23625,1.2331],"format":".5f","labelAlign":"left","labelBaseline":"middle","labelOverlap":false,"labelBound":false,"labelFlush":false,"tickCount":60,"tickSize":3,"labelPadding":3,"grid":false,"title":null,"domainColor":"black","tickColor":"black","labelColor":"black","labelFont":"Liberation Sans","labelFontSize":9.5}}}},
{"data":{"values":[{"p":1.27287}]},"mark":{"type":"rule","color":"#708090","strokeWidth":1},"encoding":{"y":{"field":"p","type":"quantitative"}}},
{"data":{"name":"levels"},"transform":[{"fold":["R3","R2","R1","S1","S2","S3"],"as":["k","v"]}],"mark":{"type":"line","strokeWidth":1,"clip":true},"encoding":{"x":{"field":"i","type":"quantitative"},"y":{"field":"v","type":"quantitative"},"color":{"field":"k","type":"nominal","legend":null,"scale":{"domain":["R3","R2","R1","P","S1","S2","S3"],"range":["#ff0000","#ff0000","#ff0000","#008000","#0000ff","#0000ff","#0000ff"]}}}},
{"data":{"name":"levels"},"mark":{"type":"line","strokeWidth":3,"color":"#008000","clip":true},"encoding":{"x":{"field":"i","type":"quantitative"},"y":{"field":"P","type":"quantitative"}}},
{"data":{"name":"candles"},"mark":{"type":"rule","color":"black","strokeWidth":1},"encoding":{"x":{"field":"i","type":"quantitative"},"y":{"field":"h","type":"quantitative"},"y2":{"field":"l"}}},
{"data":{"name":"candles"},"mark":{"type":"bar","size":2,"orient":"vertical","stroke":"black","strokeWidth":1},"encoding":{"x":{"field":"i","type":"quantitative"},"y":{"field":"o","type":"quantitative"},"y2":{"field":"c"},"fill":{"condition":{"test":"datum.c>=datum.o","value":"#ADFF2F"},"value":"#ff0000"}}},
{"data":{"values":[{"x1":-0.125,"x2":387.375,"a":1.232767,"b":1.230906}]},"mark":{"type":"rect","fill":"white"},"encoding":{"x":{"field":"x1","type":"quantitative"},"x2":{"field":"x2"},"y":{"field":"a","type":"quantitative"},"y2":{"field":"b"}}},
{"data":{"values":[{"p":1.232767},{"p":1.232576}]},"mark":{"type":"rule","color":"black","strokeWidth":1},"encoding":{"y":{"field":"p","type":"quantitative"}}},
{"data":{"name":"seps"},"mark":{"type":"rule","color":"black","strokeWidth":1,"strokeDash":[3,3]},"encoding":{"x":{"field":"i","type":"quantitative"},"y":{"datum":1.232576,"type":"quantitative"},"y2":{"datum":1.230906}}},
{"data":{"values":[{"i":148.6,"i2":248.6,"a":1.29532,"b":1.28847}]},"mark":{"type":"rect","fill":"#14325A"},"encoding":{"x":{"field":"i","type":"quantitative"},"x2":{"field":"i2"},"y":{"field":"a","type":"quantitative"},"y2":{"field":"b"}}},
{"data":{"values":[{"i":200.9,"i2":234.9,"a":1.29465,"b":1.28921}]},"mark":{"type":"rect","fill":"white","cornerRadius":3},"encoding":{"x":{"field":"i","type":"quantitative"},"x2":{"field":"i2"},"y":{"field":"a","type":"quantitative"},"y2":{"field":"b"}}},
{"data":{"values":[{"i":175.75,"p":1.2915,"t":"INTRA"}]},"mark":{"type":"text","font":"Liberation Sans","fontWeight":"bold","fontSize":65,"align":"center","baseline":"middle","color":"white"},"encoding":{"x":{"field":"i","type":"quantitative"},"y":{"field":"p","type":"quantitative"},"text":{"field":"t"}}},
{"data":{"values":[{"i":218.5,"p":1.2915,"t":"DAY"}]},"mark":{"type":"text","font":"Liberation Sans","fontWeight":"bold","fontSize":60,"align":"center","baseline":"middle","color":"#14325A"},"encoding":{"x":{"field":"i","type":"quantitative"},"y":{"field":"p","type":"quantitative"},"text":{"field":"t"}}},
{"data":{"values":[{"i":241.08,"p":1.29312}]},"mark":{"type":"point","filled":true,"opacity":1,"size":1681,"color":"#00CED1","shape":"M-0.25,-0.8 L1,-0.8 L0.56,0.42 L0.27,0.02 L-0.58,0.8 L-1,0.21 L-0.06,-0.44 Z"},"encoding":{"x":{"field":"i","type":"quantitative"},"y":{"field":"p","type":"quantitative"}}},
{"data":{"values":[{"i":242.25,"p":1.29072}]},"mark":{"type":"point","filled":true,"opacity":1,"size":1681,"color":"#FF14C8","shape":"M-1.02,0.8 L0.28,0.8 L0.04,0.5 L1.02,-0.15 L0.56,-0.8 L-0.37,-0.15 L-0.53,-0.48 Z"},"encoding":{"x":{"field":"i","type":"quantitative"},"y":{"field":"p","type":"quantitative"}}},
{"data":{"values":[{"i":140.1,"p":1.25779},{"i":187.05,"p":1.25912},{"i":252.1,"p":1.2591}]},"mark":{"type":"point","filled":true,"opacity":1,"size":1750,"color":"#ff0000","shape":"M0.88,-1 L0.08,-0.83 L0.38,-0.58 L-0.87,0.78 L-0.62,1 L0.6,-0.25 L0.77,-0.17 Z"},"encoding":{"x":{"field":"i","type":"quantitative"},"y":{"field":"p","type":"quantitative"}}},
{"data":{"name":"magic"},"mark":{"type":"text","font":"Noto Sans","fontSize":13,"align":"left","baseline":"middle"},"encoding":{"x":{"field":"i","type":"quantitative"},"y":{"field":"p","type":"quantitative"},"text":{"field":"t"},"color":{"field":"k","type":"nominal","legend":null,"scale":{"domain":["R3","R2","R1","P","S1","S2","S3"],"range":["#ff0000","#ff0000","#ff0000","#008000","#0000ff","#0000ff","#0000ff"]}}}},
{"data":{"name":"boxes"},"mark":{"type":"rect","fill":"#9400D3"},"encoding":{"x":{"field":"x1","type":"quantitative"},"x2":{"field":"x2"},"y":{"field":"a","type":"quantitative"},"y2":{"field":"b"}}},
{"data":{"values":[{"x1":387.875,"x2":397.125,"a":1.27339,"b":1.27235}]},"mark":{"type":"rect","fill":"black"},"encoding":{"x":{"field":"x1","type":"quantitative"},"x2":{"field":"x2"},"y":{"field":"a","type":"quantitative"},"y2":{"field":"b"}}},
{"data":{"values":[{"i":388.9,"p":1.284,"t":"1.28400"},{"i":388.9,"p":1.269,"t":"1.26900"},{"i":388.9,"p":1.267,"t":"1.26700"},{"i":388.9,"p":1.262,"t":"1.26200"},{"i":388.9,"p":1.248,"t":"1.24800"},{"i":388.9,"p":1.27287,"t":"1.27287"}]},"mark":{"type":"text","font":"Liberation Sans","fontSize":9.5,"align":"left","baseline":"middle","color":"white"},"encoding":{"x":{"field":"i","type":"quantitative"},"y":{"field":"p","type":"quantitative"},"text":{"field":"t"}}},
{"data":{"values":[{"i":0.875,"p":1.29622,"t":"GBPUSD,H1  1.27504 1.27597 1.27216 1.27287"},{"i":0.875,"p":1.2317,"t":"Symbol Changer profit display"},{"i":388.9,"p":1.23166,"t":"0"},{"i":388.9,"p":1.23166,"t":"8"}]},"mark":{"type":"text","font":"Liberation Sans","fontSize":9.5,"align":"left","baseline":"middle","color":"black"},"encoding":{"x":{"field":"i","type":"quantitative"},"y":{"field":"p","type":"quantitative"},"text":{"field":"t"}}}
]}
